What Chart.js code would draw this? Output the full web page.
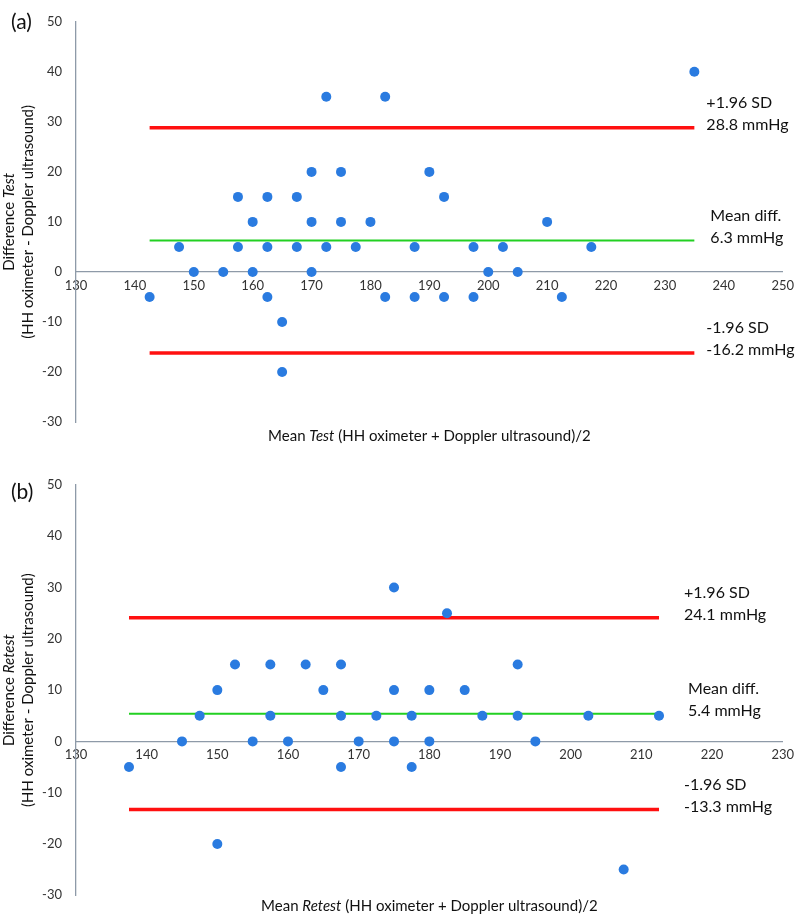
<!DOCTYPE html>
<html>
<head>
<meta charset="utf-8">
<title>Bland-Altman test / retest</title>
<script src="https://cdn.jsdelivr.net/npm/chart.js@4.4.1/dist/chart.umd.min.js"></script>
<style>
  body { margin: 0; background: #fff; }
  #wrap { position: relative; width: 800px; height: 917px; }
  .panel { position: absolute; left: 0; width: 800px; }
</style>
</head>
<body>
<div id="wrap">
  <div class="panel" style="top:0;height:458px"><canvas id="chartA"></canvas></div>
  <div class="panel" style="top:458px;height:459px"><canvas id="chartB"></canvas></div>
</div>
<script>
// --- Datos ---
// (a) Test: media de ambos metodos vs diferencia
const testMean = [142.5, 147.5, 150, 155, 157.5, 157.5, 160, 160, 162.5, 162.5, 162.5, 165, 165,
  167.5, 167.5, 170, 170, 170, 172.5, 172.5, 175, 175, 177.5, 180, 182.5, 182.5, 187.5, 187.5,
  190, 192.5, 192.5, 197.5, 197.5, 200, 202.5, 205, 210, 212.5, 217.5, 235];
const testDiff = [-5, 5, 0, 0, 15, 5, 10, 0, 15, 5, -5, -10, -20,
  15, 5, 20, 10, 0, 35, 5, 20, 10, 5, 10, 35, -5, 5, -5,
  20, 15, -5, 5, -5, 0, 5, 0, 10, -5, 5, 40];
const testLimits = [28.8, 6.3, -16.2];   // +1.96 SD, media, -1.96 SD

// (b) Retest
const retestMean = [137.5, 145, 147.5, 150, 150, 152.5, 155, 157.5, 157.5, 160, 162.5, 165,
  167.5, 167.5, 167.5, 170, 172.5, 175, 175, 175, 177.5, 177.5, 180, 180, 182.5, 185, 187.5,
  192.5, 192.5, 195, 202.5, 207.5, 212.5];
const retestDiff = [-5, 0, 5, 10, -20, 15, 0, 15, 5, 0, 15, 10,
  15, 5, -5, 0, 5, 30, 10, 0, 5, -5, 10, 0, 25, 10, 5,
  15, 5, 0, 5, -25, 5];
const retestLimits = [24.1, 5.4, -13.3];

// Ejes
const testXRange = [130, 250];
const retestXRange = [130, 230];
const diffRange = [-30, 50];
const tickStep = 10;
const limitNames = ['+1.96 SD', 'Mean diff.', '-1.96 SD'];

// --- Estilos ---
const FONT = 'Lato, "Open Sans", sans-serif';
const BLUE = '#2a7be0';
const RED = '#ff1010';
const GREEN = '#22d022';
const AXIS = '#8e9aa8';
const TEXT = '#111';

// Dibuja texto con partes en cursiva, centrado en (cx, cy)
function drawRich(ctx, parts, cx, cy, size) {
  const fontOf = p => (p.i ? 'italic ' : '') + size + 'px ' + FONT;
  let total = 0;
  parts.forEach(p => { ctx.font = fontOf(p); total += ctx.measureText(p.t).width; });
  let x = cx - total / 2;
  ctx.textAlign = 'left';
  ctx.textBaseline = 'middle';
  parts.forEach(p => {
    ctx.font = fontOf(p);
    ctx.fillText(p.t, x, cy);
    x += ctx.measureText(p.t).width;
  });
}

// Plugin: letra del panel, titulos de ejes y etiquetas de los limites
const baText = {
  id: 'baText',
  afterDraw(chart, args, o) {
    const { ctx, chartArea, scales: { x, y } } = chart;
    ctx.save();
    ctx.fillStyle = TEXT;

    ctx.font = '21px ' + FONT;
    ctx.textAlign = 'left';
    ctx.textBaseline = 'middle';
    ctx.fillText(o.letter, 11, o.letterY);

    // titulo eje x
    const cx = (chartArea.left + chartArea.right) / 2;
    drawRich(ctx, [{ t: 'Mean ' }, { t: o.word, i: true }, { t: ' (HH oximeter + Doppler ultrasound)/2' }],
      cx, chartArea.bottom + o.xTitleGap, 15);

    // titulo eje y (rotado)
    const cy = (chartArea.top + chartArea.bottom) / 2;
    ctx.translate(0, cy);
    ctx.rotate(-Math.PI / 2);
    drawRich(ctx, [{ t: 'Difference ' }, { t: o.word, i: true }], 0, 9, 15);
    drawRich(ctx, [{ t: '(HH oximeter - Doppler ultrasound)' }], 0, 28, 15);
    ctx.setTransform(1, 0, 0, 1, 0, 0);

    // etiquetas de los limites
    ctx.font = '16px ' + FONT;
    ctx.textAlign = 'left';
    ctx.textBaseline = 'middle';
    const xEnd = x.getPixelForValue(o.lineEnd);
    o.limits.forEach((v, i) => {
      const py = y.getPixelForValue(v) - 3;
      const px = xEnd + o.labelGap + (i === 1 ? 4 : 0);
      ctx.fillText(limitNames[i], px, py - 22);
      ctx.fillText(v.toFixed(1) + ' mmHg', px, py);
    });
    ctx.restore();
  }
};

function makeChart(canvasId, means, diffs, limits, xRange, extra) {
  const points = means.map((m, i) => ({ x: m, y: diffs[i] }));
  const x0 = Math.min(...means);
  const x1 = Math.max(...means);
  const lineColors = [RED, GREEN, RED];
  const lineWidths = [3.5, 2, 3.5];
  const lines = limits.map((v, i) => ({
    data: [{ x: x0, y: v }, { x: x1, y: v }],
    showLine: true,
    pointRadius: 0,
    borderColor: lineColors[i],
    borderWidth: lineWidths[i],
    fill: false,
    order: 1
  }));

  return new Chart(document.getElementById(canvasId), {
    type: 'scatter',
    data: {
      datasets: [{
        data: points,
        pointRadius: 5,
        pointHoverRadius: 5,
        backgroundColor: BLUE,
        borderWidth: 0,
        order: 0
      }].concat(lines)
    },
    options: {
      responsive: true,
      maintainAspectRatio: false,
      animation: false,
      layout: { padding: extra.padding },
      plugins: {
        legend: { display: false },
        tooltip: { enabled: false },
        baText: {
          letter: extra.letter,
          letterY: extra.letterY,
          word: extra.word,
          xTitleGap: extra.xTitleGap,
          labelGap: extra.labelGap,
          lineEnd: x1,
          limits: limits
        }
      },
      scales: {
        x: {
          type: 'linear',
          min: xRange[0],
          max: xRange[1],
          position: { y: 0 },
          grid: { display: false, drawTicks: false },
          border: { display: true, color: AXIS, width: 1.3 },
          ticks: {
            stepSize: tickStep, padding: 6, color: '#333', autoSkip: false, maxRotation: 0,
            font: { family: FONT, size: 13 }
          }
        },
        y: {
          min: diffRange[0],
          max: diffRange[1],
          grid: { display: false, drawTicks: false },
          border: { display: true, color: AXIS, width: 1.3 },
          ticks: {
            stepSize: tickStep, padding: 14, color: '#333',
            font: { family: FONT, size: 13 }
          },
          afterFit(scale) { scale.width = 76; }
        }
      }
    },
    plugins: [baText]
  });
}

makeChart('chartA', testMean, testDiff, testLimits, testXRange, {
  letter: '(a)', letterY: 22, word: 'Test', xTitleGap: 14, labelGap: 12,
  padding: { left: 0, top: 15, right: 15, bottom: 36 }
});
makeChart('chartB', retestMean, retestDiff, retestLimits, retestXRange, {
  letter: '(b)', letterY: 34, word: 'Retest', xTitleGap: 11, labelGap: 25,
  padding: { left: 0, top: 27, right: 12, bottom: 21 }
});
</script>
</body>
</html>
